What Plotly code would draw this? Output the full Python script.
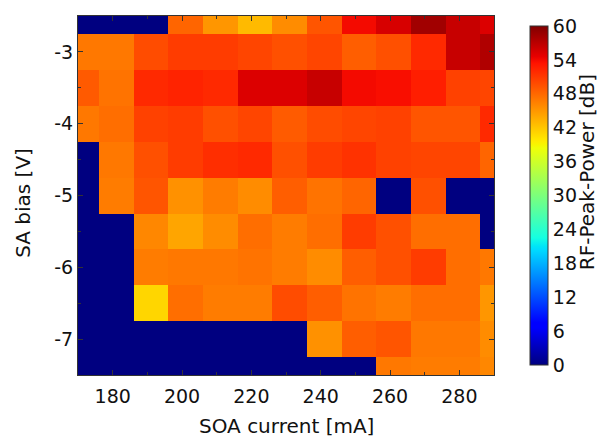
import plotly.graph_objects as go

soa_current = [171, 181, 191, 201, 211, 221, 231, 241, 251, 261, 271, 281, 291]
sa_bias = [-2.5, -3.0, -3.5, -4.0, -4.5, -5.0, -5.5, -6.0, -6.5, -7.0, -7.5]

row_m2p5 = [0, 0, 0, 48.2, 45.1, 42.8, 45.7, 49.2, 54.0, 55.5, 58.3, 56.3, 55.2]
row_m3p0 = [47.0, 47.0, 49.8, 50.8, 50.8, 50.2, 49.5, 50.2, 48.6, 49.5, 52.0, 56.3, 57.5]
row_m3p5 = [48.9, 47.3, 52.0, 52.4, 52.0, 55.2, 55.2, 56.3, 54.0, 53.7, 52.7, 50.5, 50.2]
row_m4p0 = [47.0, 47.6, 50.5, 50.8, 49.5, 50.2, 48.8, 49.8, 50.2, 50.5, 49.2, 49.2, 52.0]
row_m4p5 = [0, 47.0, 49.5, 50.8, 51.7, 52.0, 49.5, 50.8, 51.4, 50.5, 50.2, 50.2, 48.2]
row_m5p0 = [0, 46.7, 49.2, 45.4, 46.7, 45.7, 48.6, 47.3, 48.2, 0, 49.5, 0, 0]
row_m5p5 = [0, 0, 46.0, 44.1, 45.7, 47.6, 46.7, 47.6, 50.8, 49.5, 47.6, 47.6, 0]
row_m6p0 = [0, 0, 46.7, 47.0, 47.0, 47.3, 46.7, 45.7, 48.6, 49.5, 50.8, 47.6, 47.0]
row_m6p5 = [0, 0, 41.0, 47.6, 46.7, 46.7, 49.8, 48.6, 47.3, 46.7, 47.6, 47.6, 45.1]
row_m7p0 = [0, 0, 0, 0, 0, 0, 0, 45.4, 48.6, 49.2, 47.0, 47.0, 45.7]
row_m7p5 = [0, 0, 0, 0, 0, 0, 0, 0, 0, 47.0, 46.7, 46.7, 46.0]

z = [row_m2p5, row_m3p0, row_m3p5, row_m4p0, row_m4p5, row_m5p0,
     row_m5p5, row_m6p0, row_m6p5, row_m7p0, row_m7p5]

cbar_ticks = [0, 6, 12, 18, 24, 30, 36, 42, 48, 54, 60]
x_ticks = [180, 200, 220, 240, 260, 280]
y_ticks = [-3, -4, -5, -6, -7]
y_ticktext = ["-3", "-4", "-5", "-6", "-7"]

# matplotlib 'jet' as piecewise-linear colour scale
red = [(0, 0), (0.35, 0), (0.66, 1), (0.89, 1), (1, 0.5)]
green = [(0, 0), (0.125, 0), (0.375, 1), (0.64, 1), (0.91, 0), (1, 0)]
blue = [(0, 0.5), (0.11, 1), (0.34, 1), (0.65, 0), (1, 0)]


def interp(seg, t):
    for (x0, y0), (x1, y1) in zip(seg[:-1], seg[1:]):
        if x0 <= t <= x1:
            return y0 + (y1 - y0) * (t - x0) / (x1 - x0) if x1 > x0 else y1
    return seg[-1][1]


stops = sorted(set([p[0] for p in red + green + blue]))
jet = [[t, "rgb(%d,%d,%d)" % (round(255 * interp(red, t)), round(255 * interp(green, t)),
                              round(255 * interp(blue, t)))] for t in stops]

font = "DejaVu Sans"
fig = go.Figure(go.Heatmap(
    x=soa_current, y=sa_bias, z=z, zmin=0, zmax=60, colorscale=jet,
    colorbar=dict(
        x=1.0625, xanchor="left", y=0.5, yanchor="middle", len=1, lenmode="fraction",
        thickness=18, outlinewidth=1, outlinecolor="#333",
        tickvals=cbar_ticks, ticks="", ticklabelposition="outside",
        tickfont=dict(family=font, size=19, color="#111"),
    ),
))

axis_common = dict(
    showline=True, linecolor="#333", linewidth=1, mirror="ticks",
    ticks="inside", ticklen=5, tickcolor="#333", showgrid=False, zeroline=False,
    tickfont=dict(family=font, size=19, color="#111"),
)
fig.update_xaxes(range=[170, 290], tickvals=x_ticks, ticklabelstandoff=4,
                 minor=dict(dtick=10, ticks="inside", ticklen=3, tickcolor="#333"),
                 **axis_common)
fig.update_yaxes(range=[-7.5, -2.5], tickvals=y_ticks, ticktext=y_ticktext,
                 minor=dict(dtick=0.5, ticks="inside", ticklen=3, tickcolor="#333"),
                 **axis_common)

fig.update_layout(
    width=605, height=437,
    margin=dict(l=78, r=111, t=16, b=62),
    paper_bgcolor="white", plot_bgcolor="white",
    annotations=[
        dict(text="SOA current [mA]", xref="paper", yref="paper", x=0.5, y=-0.142,
             xanchor="center", yanchor="middle", showarrow=False,
             font=dict(family=font, size=20, color="#111")),
        dict(text="SA bias [V]", xref="paper", yref="paper", x=-0.132, y=0.48,
             xanchor="center", yanchor="middle", showarrow=False, textangle=-90,
             font=dict(family=font, size=20, color="#111")),
        dict(text="RF-Peak-Power [dB]", xref="paper", yref="paper", x=1.2236, y=0.565,
             xanchor="center", yanchor="middle", showarrow=False, textangle=-90,
             font=dict(family=font, size=20, color="#111")),
    ],
)

fig.write_html("out.html")
